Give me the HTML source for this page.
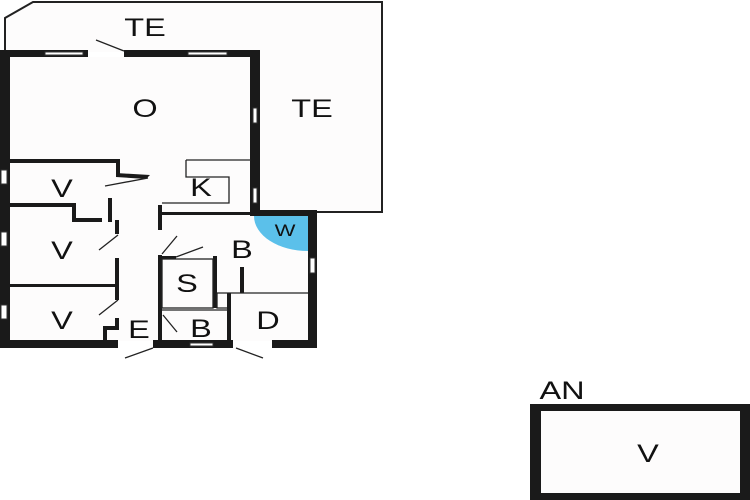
<!DOCTYPE html>
<html><head><meta charset="utf-8"><style>
html,body{margin:0;padding:0;background:#fff;}
svg{display:block}
text{font-family:"Liberation Sans",sans-serif;fill:#111;}
</style></head><body>
<svg width="750" height="500" viewBox="0 0 750 500" xmlns="http://www.w3.org/2000/svg">
<rect width="750" height="500" fill="#fff"/>
<polygon points="5,52 5,18 33,2 382,2 382,212 258,212 258,52" fill="#fdfcfc"/>
<polyline points="5,52 5,18 33,2 382,2 382,212 316,212" fill="none" stroke="#222" stroke-width="2"/>
<rect x="10" y="57" width="298" height="284" fill="#fdfcfc"/>
<g fill="#1a1a1a">
<rect x="0" y="50" width="10" height="298"/>
<rect x="0" y="50" width="88" height="7"/>
<rect x="124" y="50" width="136" height="7"/>
<rect x="250" y="50" width="10" height="166"/>
<rect x="250" y="210" width="67" height="6"/>
<rect x="308" y="210" width="9" height="138"/>
<rect x="0" y="340" width="118" height="8"/>
<rect x="153" y="340" width="80" height="8"/>
<rect x="272" y="340" width="45" height="8"/>
<rect x="10" y="159" width="110" height="4"/>
<rect x="116" y="159" width="4" height="18"/>
<polygon points="116,173 150,175 146,179 116,177"/>
<rect x="10" y="203" width="66" height="4"/>
<rect x="72" y="203" width="4" height="18"/>
<rect x="72" y="218" width="30" height="4"/>
<rect x="108" y="198" width="4" height="24"/>
<rect x="115" y="220" width="4" height="14"/>
<rect x="115" y="258" width="4" height="42"/>
<rect x="10" y="284" width="107" height="3"/>
<rect x="115" y="318" width="4" height="10"/>
<rect x="103" y="326" width="16" height="4"/>
<rect x="103" y="326" width="4" height="18"/>
<rect x="158" y="205" width="4" height="25"/>
<rect x="158" y="255" width="4" height="90"/>
<rect x="160" y="212" width="90" height="3"/>
<rect x="160" y="256" width="16" height="3"/>
<rect x="213" y="256" width="4" height="52"/>
<rect x="227" y="293" width="4" height="52"/>
<rect x="240" y="267" width="4" height="26"/>
</g>
<g fill="#fff" stroke="#333" stroke-width="1">
<rect x="45" y="52" width="38" height="3"/>
<rect x="188" y="52" width="39" height="3"/>
<rect x="253" y="108" width="4" height="15"/>
<rect x="253" y="188" width="4" height="15"/>
<rect x="1" y="170" width="6" height="14"/>
<rect x="1" y="232" width="6" height="14"/>
<rect x="1" y="305" width="6" height="14"/>
<rect x="310" y="258" width="5" height="15"/>
<rect x="190" y="343" width="23" height="3"/>
</g>
<path d="M308,216 L254,216 A54,35 0 0 0 308,251 Z" fill="#5bc0ea"/>
<g stroke="#222" stroke-width="1.3" fill="none">
<path d="M186,160 H251 M186,160 V177 H229 V203 H162"/>
<line x1="317" y1="212" x2="330" y2="212"/>
<rect x="162" y="259" width="51" height="49"/>
<line x1="162" y1="310" x2="228" y2="310"/>
<path d="M217,293 H308 M217,293 V308 H227"/>
<line x1="96" y1="40" x2="124" y2="51"/>
<line x1="105" y1="186" x2="148" y2="178"/>
<line x1="99" y1="250" x2="118" y2="235"/>
<line x1="99" y1="315" x2="118" y2="300"/>
<line x1="162" y1="254" x2="177" y2="236"/>
<line x1="176" y1="257" x2="203" y2="247"/>
<line x1="163" y1="315" x2="177" y2="332"/>
<line x1="125" y1="358" x2="153" y2="348"/>
<line x1="236" y1="348" x2="263" y2="358"/>
</g>
<g font-size="25" text-anchor="middle">
<text transform="translate(145,36) scale(1.3,1)">TE</text>
<text transform="translate(145,117) scale(1.3,1)">O</text>
<text transform="translate(312,117) scale(1.3,1)">TE</text>
<text transform="translate(62,197) scale(1.3,1)">V</text>
<text transform="translate(62,259) scale(1.3,1)">V</text>
<text transform="translate(62,329) scale(1.3,1)">V</text>
<text transform="translate(201,196) scale(1.3,1)">K</text>
<text transform="translate(242,258) scale(1.3,1)">B</text>
<text transform="translate(187,292) scale(1.3,1)">S</text>
<text transform="translate(201,337) scale(1.3,1)">B</text>
<text transform="translate(268,329) scale(1.3,1)">D</text>
<text transform="translate(139,338) scale(1.3,1)">E</text>
<text transform="translate(285,236) scale(1.3,1)" font-size="17">W</text>
</g>
<rect x="530" y="404" width="220" height="96" fill="#1a1a1a"/>
<rect x="541" y="411" width="199" height="82" fill="#fdfcfc"/>
<text transform="translate(562,399) scale(1.3,1)" font-size="25" text-anchor="middle">AN</text>
<text transform="translate(648,462) scale(1.3,1)" font-size="25" text-anchor="middle">V</text>
</svg>
</body></html>
